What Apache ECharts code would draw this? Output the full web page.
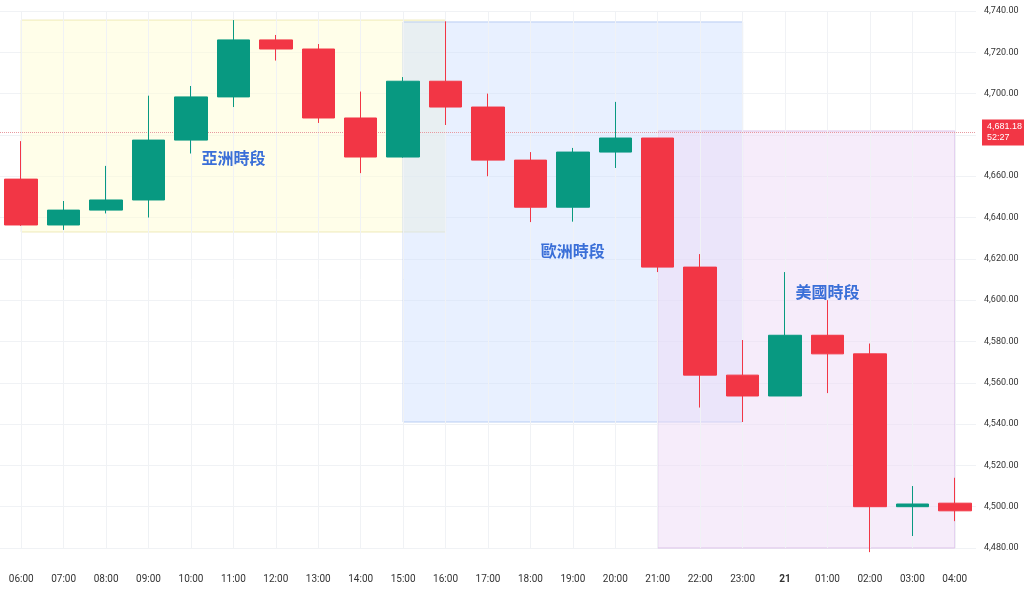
<!DOCTYPE html>
<html>
<head>
<meta charset="UTF-8">
<script src="https://cdn.jsdelivr.net/npm/echarts@6/dist/echarts.min.js"></script>
<style>html,body{margin:0;background:#fff}#c{width:1024px;height:589px}</style>
</head>
<body>
<div id="c"></div>
<script>
// 時間軸與 OHLC
const hours = ['06:00','07:00','08:00','09:00','10:00','11:00','12:00','13:00','14:00','15:00','16:00','17:00',
  '18:00','19:00','20:00','21:00','22:00','23:00','21','01:00','02:00','03:00','04:00'];
const opens  = [4658.6,4636.4,4643.6,4648.5,4677.5,4698.4,4726.0,4721.6,4688.2,4669.3,4706.0,4693.5,4667.8,4645.0,4671.7,4678.5,4616.0,4563.7,4553.6,4583.0,4574.0,4500.0,4501.7];
const closes = [4636.4,4643.6,4648.5,4677.5,4698.4,4726.0,4721.6,4688.2,4669.3,4706.0,4693.5,4667.8,4645.0,4671.7,4678.5,4616.0,4563.7,4553.6,4583.0,4574.0,4500.0,4501.3,4498.0];
const lows   = [4636.0,4634.0,4642.0,4640.0,4671.0,4693.5,4716.0,4685.8,4661.5,4669.0,4684.8,4660.0,4637.8,4638.0,4664.0,4613.6,4548.0,4541.0,4553.6,4555.0,4478.0,4485.8,4493.0];
const highs  = [4677.0,4648.0,4665.0,4699.0,4703.7,4735.6,4728.4,4724.0,4701.0,4708.0,4735.0,4700.0,4671.7,4673.7,4696.0,4678.5,4622.3,4580.7,4613.6,4600.0,4579.0,4510.0,4514.0];
const lastPrice = 4681.18, curPrice = 4498.03;
const sessions = [
  {name:'亞洲時段', from:'06:00', to:'16:00', top:4735.6, bottom:4633, fill:'rgba(255,253,215,0.55)', line:'rgba(235,230,170,0.8)', at:['11:00',4669]},
  {name:'歐洲時段', from:'15:00', to:'23:00', top:4734.7, bottom:4541, fill:'rgba(205,222,255,0.45)', line:'rgba(170,195,240,0.8)', at:['19:00',4624]},
  {name:'美國時段', from:'21:00', to:'04:00', top:4681.9, bottom:4476, fill:'rgba(238,218,245,0.5)', line:'rgba(215,185,230,0.8)', at:['01:00',4604]}
];

const fmt = v => v.toLocaleString('en-US',{minimumFractionDigits:2,maximumFractionDigits:2});
const data = hours.map((h,i)=>[opens[i],closes[i],lows[i],highs[i]]);

const chart = echarts.init(document.getElementById('c'));
chart.setOption({
  animation:false,
  grid:{left:0,right:48,top:11,bottom:41},
  xAxis:{type:'category',data:hours,
    axisLine:{show:false},axisTick:{show:false},splitLine:{show:false},
    axisLabel:{margin:26,fontSize:10,color:'#333',fontFamily:'Roboto',
      formatter:v=>v==='21'?'{b|21}':v,rich:{b:{fontWeight:'bold',fontSize:10}}}},
  yAxis:{type:'value',position:'right',min:4480,max:4740,interval:20,
    axisLine:{show:false},axisTick:{show:false},
    splitLine:{lineStyle:{color:'#f0f2f5'}},
    axisLabel:{fontSize:9,color:'#333',fontFamily:'Roboto',margin:8,formatter:fmt}},
  series:[
    {type:'line',data:[],z:0,silent:true,
      markLine:{silent:true,symbol:'none',z:0,
        data:hours.map(h=>({xAxis:h,lineStyle:{color:'#f0f2f5',type:'solid',width:1},label:{show:false}}))},
      markArea:{silent:true,z:0,
        data:sessions.map(s=>[
          {xAxis:s.from,yAxis:s.top,itemStyle:{color:s.fill,borderColor:s.line,borderWidth:1}},
          {xAxis:s.to,yAxis:s.bottom}])}},
    {type:'candlestick',data:data,clip:false,barWidth:33,z:5,
      itemStyle:{color:'#089981',color0:'#f23645',borderColor:'#089981',borderColor0:'#f23645'},
      markLine:{silent:true,symbol:'none',
        data:[
          {yAxis:lastPrice,lineStyle:{color:'#e89aa0',type:'dotted',width:1},
            label:{position:'end',distance:6,formatter:'4,681.18\n52:27',color:'#fff',backgroundColor:'#f23645',
              fontSize:9,lineHeight:11,padding:[2,5],align:'left'}},
          {yAxis:curPrice,lineStyle:{opacity:0},
            label:{position:'end',distance:6,formatter:fmt(curPrice),color:'#f23645',backgroundColor:'#fff',
              borderColor:'#f23645',borderWidth:1,fontSize:9,padding:[1,4],align:'left'}}
        ]},
      markPoint:{symbol:'circle',symbolSize:0,
        data:sessions.map(s=>({coord:s.at,value:s.name,
          label:{show:true,formatter:s.name,color:'#3a6fd8',fontSize:16,fontWeight:'bold',
            fontFamily:'Noto Sans CJK TC'}}))}
    }
  ]
});
</script>
</body>
</html>
